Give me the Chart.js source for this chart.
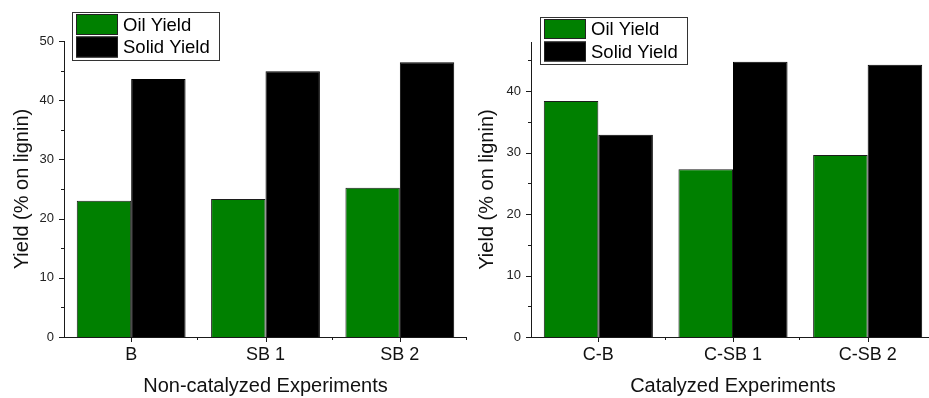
<!DOCTYPE html>
<html>
<head>
<meta charset="utf-8">
<script src="https://cdn.jsdelivr.net/npm/chart.js@4/dist/chart.umd.min.js"></script>
<style>
  html, body { margin: 0; padding: 0; background: #fff; overflow: hidden; width: 929px; height: 398px; }
  #wrap { position: relative; width: 929px; height: 398px; overflow: hidden; }
  canvas { position: absolute; top: 0; }
  #c1 { left: 0px; }
  #c2 { left: 466px; }
</style>
</head>
<body>
<div id="wrap">
  <canvas id="c1" width="470" height="398"></canvas>
  <canvas id="c2" width="470" height="398"></canvas>
</div>
<script>
// ---- Data ----
const seriesLabels = ['Oil Yield', 'Solid Yield'];

const categoriesNon = ['B', 'SB 1', 'SB 2'];
const oilNon = [23.0, 23.3, 25.2];
const solidNon = [43.6, 44.9, 46.4];
const yTicksNon = [0, 10, 20, 30, 40, 50];

const categoriesCat = ['C-B', 'C-SB 1', 'C-SB 2'];
const oilCat = [38.4, 27.3, 29.6];
const solidCat = [32.9, 44.8, 44.3];
const yTicksCat = [0, 10, 20, 30, 40];

const xTitleNon = 'Non-catalyzed Experiments';
const xTitleCat = 'Catalyzed Experiments';
const yTitle = 'Yield (% on lignin)';

// ---- Styles ----
const FONT = '"Liberation Sans", Arial, sans-serif';
const GREEN = '#008000';
const BLACK = '#000000';
const AXIS = '#1a1a1a';

// Axis lines, major and minor ticks drawn from the scales
const axesPlugin = {
  id: 'originAxes',
  afterDraw(chart) {
    const ctx = chart.ctx;
    const x = chart.scales.x, y = chart.scales.y;
    const a = chart.chartArea;
    ctx.save();
    ctx.strokeStyle = AXIS;
    ctx.lineWidth = 1;
    ctx.beginPath();
    ctx.moveTo(a.left + 0.5, a.top);
    ctx.lineTo(a.left + 0.5, a.bottom + 0.5);
    ctx.moveTo(a.left, a.bottom + 0.5);
    ctx.lineTo(a.right, a.bottom + 0.5);
    const yt = y.ticks.map(t => t.value);
    yt.forEach((v) => {
      const py = Math.round(y.getPixelForValue(v)) + 0.5;
      ctx.moveTo(a.left - 5, py); ctx.lineTo(a.left, py);
      const step = yt.length > 1 ? yt[1] - yt[0] : 10;
      const mv = v + step / 2;
      if (mv < y.max) {
        const pm = Math.round(y.getPixelForValue(mv)) + 0.5;
        ctx.moveTo(a.left - 3, pm); ctx.lineTo(a.left, pm);
      }
    });
    const n = chart.data.labels.length;
    const cw = (a.right - a.left) / n;
    for (let i = 0; i < n; i++) {
      const px = Math.round(x.getPixelForTick(i)) + 0.5;
      ctx.moveTo(px, a.bottom); ctx.lineTo(px, a.bottom + 5);
    }
    for (let i = 1; i <= n; i++) {
      const px = Math.round(a.left + cw * i) - 0.5;
      ctx.moveTo(px, a.bottom); ctx.lineTo(px, a.bottom + 3);
    }
    ctx.stroke();
    ctx.restore();
  }
};

// Boxed legend drawn over the plot
const boxLegendPlugin = {
  id: 'boxLegend',
  afterDraw(chart, args, opts) {
    const ctx = chart.ctx;
    ctx.save();
    ctx.fillStyle = '#fff';
    ctx.fillRect(opts.x, opts.y, opts.w, opts.h);
    ctx.strokeStyle = '#333';
    ctx.lineWidth = 1;
    ctx.strokeRect(opts.x + 0.5, opts.y + 0.5, opts.w, opts.h);
    chart.data.datasets.forEach((ds, i) => {
      const sy = opts.y + 2 + i * opts.rowH;
      ctx.fillStyle = ds.backgroundColor;
      ctx.fillRect(opts.x + 4, sy, opts.swW, opts.swH);
      ctx.strokeStyle = '#222';
      ctx.strokeRect(opts.x + 4.5, sy + 0.5, opts.swW - 1, opts.swH - 1);
      ctx.fillStyle = '#000';
      ctx.font = '18.5px ' + FONT;
      ctx.textBaseline = 'middle';
      ctx.textAlign = 'left';
      ctx.fillText(ds.label, opts.x + opts.swW + 9, sy + opts.swH / 2 + 1);
    });
    ctx.restore();
  }
};

function makeChart(id, cats, oil, solid, yTicks, yMax, xTitle, cfg) {
  return new Chart(document.getElementById(id), {
    type: 'bar',
    data: {
      labels: cats,
      datasets: [
        { label: seriesLabels[0], data: oil, backgroundColor: GREEN, borderColor: '#1c1c1c', borderWidth: 1 },
        { label: seriesLabels[1], data: solid, backgroundColor: BLACK, borderColor: '#000', borderWidth: 1 }
      ]
    },
    options: {
      responsive: false,
      animation: false,
      devicePixelRatio: 1,
      categoryPercentage: 0.81,
      barPercentage: 1.0,
      layout: { padding: { top: cfg.top, right: cfg.right, left: 0, bottom: 0 } },
      plugins: {
        legend: { display: false },
        tooltip: { enabled: false },
        boxLegend: cfg.legend
      },
      scales: {
        x: {
          type: 'category',
          offset: true,
          grid: { display: false, drawTicks: true, tickLength: 5 },
          border: { display: false },
          ticks: { color: '#111', font: { family: FONT, size: 18 }, padding: 2, maxRotation: 0 },
          title: { display: true, text: xTitle, color: '#111', font: { family: FONT, size: 20 }, padding: { top: 0, bottom: 0 } },
          afterFit(s) { s.height = 61; }
        },
        y: {
          min: 0,
          max: yMax,
          grid: { display: false, drawTicks: true, tickLength: 5 },
          border: { display: false },
          afterBuildTicks(s) { s.ticks = yTicks.map(v => ({ value: v })); },
          ticks: { color: '#222', font: { family: FONT, size: 13 }, padding: 5 },
          title: { display: true, text: yTitle, color: '#111', font: { family: FONT, size: 20 }, padding: { top: cfg.ytPad, bottom: 0 } },
          afterFit(s) { s.width = cfg.yWidth; }
        }
      }
    },
    plugins: [axesPlugin, boxLegendPlugin]
  });
}

makeChart('c1', categoriesNon, oilNon, solidNon, yTicksNon, 50, xTitleNon, {
  top: 41, right: 3, yWidth: 64, ytPad: 10,
  legend: { x: 72, y: 12, w: 147, h: 48, swW: 42, swH: 21, rowH: 22.5 }
});

makeChart('c2', categoriesCat, oilCat, solidCat, yTicksCat, 48, xTitleCat, {
  top: 42, right: 1, yWidth: 65, ytPad: 9,
  legend: { x: 74, y: 17, w: 147, h: 47, swW: 42, swH: 20, rowH: 22.5 }
});
</script>
</body>
</html>
